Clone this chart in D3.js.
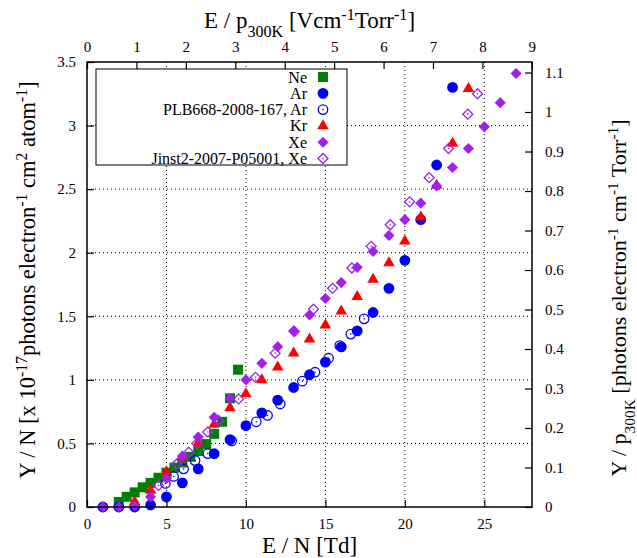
<!DOCTYPE html>
<html>
<head>
<meta charset="utf-8">
<script src="https://cdn.jsdelivr.net/npm/d3@7"></script>
<style>
  body { margin: 0; background: #fff; }
</style>
</head>
<body>
<div id="chart"></div>
<script>
// Data (E/N in Td, Y/N in 1e-17 photons/electron cm2/atom)
const neX = [2, 2.5, 3, 3.5, 4, 4.5, 5, 5.5, 6, 6.5, 7, 7.5, 8, 8.5, 9, 9.5];
const neY = [0.04, 0.08, 0.115, 0.155, 0.19, 0.23, 0.27, 0.31, 0.35, 0.395, 0.44, 0.495, 0.575, 0.67, 0.855, 1.08];

const arX = [1, 2, 3, 4, 5, 6, 7, 8, 9, 10, 11, 12, 13, 14, 15, 16, 17, 18, 19, 20, 21, 22, 23];
const arY = [0, 0, 0, 0.016, 0.08, 0.19, 0.30, 0.42, 0.53, 0.64, 0.74, 0.84, 0.94, 1.04, 1.14, 1.26, 1.385, 1.53, 1.72, 1.94, 2.26, 2.69, 3.30];

const plbX = [4.93, 5.45, 6.08, 6.8, 7.6, 9.1, 10.65, 11.36, 12.16, 13.55, 14.35, 15.2, 15.9, 16.6, 17.44];
const plbY = [0.185, 0.24, 0.30, 0.365, 0.42, 0.52, 0.67, 0.72, 0.81, 0.99, 1.06, 1.17, 1.27, 1.36, 1.48];

const krX = [3, 4, 5, 6, 7, 8, 9, 10, 11, 12, 13, 14, 15, 16, 17, 18, 19, 20, 21, 22, 23, 24];
const krY = [0.04, 0.13, 0.275, 0.39, 0.505, 0.65, 0.78, 0.89, 1.0, 1.10, 1.21, 1.32, 1.43, 1.54, 1.655, 1.79, 1.92, 2.09, 2.28, 2.53, 2.86, 3.29];

const xeX = [1, 2, 3, 4, 5, 6, 7, 8, 9, 10, 11, 12, 13, 14, 15, 16, 17, 18, 19, 20, 21, 22, 23, 24, 25, 26, 27];
const xeY = [0, 0, 0.01, 0.08, 0.225, 0.40, 0.55, 0.705, 0.855, 1.0, 1.13, 1.26, 1.385, 1.51, 1.64, 1.765, 1.885, 2.01, 2.135, 2.26, 2.39, 2.525, 2.67, 2.82, 2.99, 3.18, 3.41];

const jinX = [4.5, 5.66, 6.4, 6.92, 7.6, 8.28, 9.54, 10.6, 11.84, 13.05, 14.25, 15.45, 16.67, 17.88, 19.08, 20.3, 21.53, 22.75, 23.96, 24.57];
const jinY = [0.17, 0.34, 0.43, 0.50, 0.59, 0.68, 0.85, 1.02, 1.21, 1.38, 1.555, 1.72, 1.88, 2.05, 2.22, 2.40, 2.59, 2.82, 3.09, 3.25];

const seriesInfo = [
  {label: "Ne", xs: neX, ys: neY, color: "#008000", shape: "square", open: false},
  {label: "Ar", xs: arX, ys: arY, color: "#0000ff", shape: "circle", open: false},
  {label: "PLB668-2008-167, Ar", xs: plbX, ys: plbY, color: "#0000ff", shape: "circle", open: true},
  {label: "Kr", xs: krX, ys: krY, color: "#ff0000", shape: "triangle", open: false},
  {label: "Xe", xs: xeX, ys: xeY, color: "#a020f0", shape: "diamond", open: false},
  {label: "Jinst2-2007-P05001, Xe", xs: jinX, ys: jinY, color: "#a020f0", shape: "diamond", open: true}
];

const xTicks = [0, 5, 10, 15, 20, 25];
const x2Ticks = [0, 1, 2, 3, 4, 5, 6, 7, 8, 9];
const yTicks = [0, 0.5, 1, 1.5, 2, 2.5, 3, 3.5];
const y2Ticks = [0, 0.1, 0.2, 0.3, 0.4, 0.5, 0.6, 0.7, 0.8, 0.9, 1, 1.1];

const serif = "'Liberation Serif', 'DejaVu Serif', serif";

// Dimensions
const width = 637;
const height = 558;
const margin = {top: 62, right: 105, bottom: 51, left: 87};
const innerWidth = width - margin.left - margin.right;
const innerHeight = height - margin.top - margin.bottom;

// Td per V/cm/Torr at 300 K, and N/p at 300 K (x 1e-17)
const tdPerEp = 3.11;
const nOverP = 0.3219;

const svg = d3.select("#chart")
  .append("svg")
    .attr("width", width)
    .attr("height", height)
    .style("font-family", serif)
    .style("display", "block");

const inner = svg.append("g")
  .attr("transform", `translate(${margin.left}, ${margin.top})`);

// Scales
const xScale = d3.scaleLinear().domain([0, 28]).range([0, innerWidth]);
const x2Scale = d3.scaleLinear().domain([0, 28 / tdPerEp]).range([0, innerWidth]);
const yScale = d3.scaleLinear().domain([0, 3.5]).range([innerHeight, 0]);
const y2Scale = d3.scaleLinear().domain([0, 3.5 * nOverP]).range([innerHeight, 0]);

// Dotted grid
inner.append("g")
  .selectAll("line")
  .data(xTicks.slice(1))
  .join("line")
    .attr("x1", d => xScale(d)).attr("x2", d => xScale(d))
    .attr("y1", 0).attr("y2", innerHeight)
    .attr("stroke", "#000").attr("stroke-width", 1)
    .attr("stroke-dasharray", "1,3");

inner.append("g")
  .selectAll("line")
  .data(yTicks.slice(1, -1))
  .join("line")
    .attr("x1", 0).attr("x2", innerWidth)
    .attr("y1", d => yScale(d)).attr("y2", d => yScale(d))
    .attr("stroke", "#000").attr("stroke-width", 1)
    .attr("stroke-dasharray", "1,3");

// Axes (ticks inward)
const styleAxis = g => {
  g.attr("font-family", serif);
  g.select(".domain").remove();
  g.selectAll(".tick line").attr("stroke", "#000").attr("stroke-width", 1.2);
  g.selectAll(".tick text")
    .style("font-size", "15px")
    .style("font-family", serif)
    .attr("fill", "#000");
};

inner.append("g")
  .attr("transform", `translate(0, ${innerHeight})`)
  .call(d3.axisBottom(xScale).tickValues(xTicks).tickFormat(d3.format("d")).tickSize(-7).tickPadding(11))
  .call(styleAxis);

inner.append("g")
  .call(d3.axisTop(x2Scale).tickValues(x2Ticks).tickFormat(d3.format("d")).tickSize(-7).tickPadding(10))
  .call(styleAxis);

inner.append("g")
  .call(d3.axisLeft(yScale).tickValues(yTicks).tickFormat(d => String(d)).tickSize(-7).tickPadding(11))
  .call(styleAxis);

inner.append("g")
  .attr("transform", `translate(${innerWidth}, 0)`)
  .call(d3.axisRight(y2Scale).tickValues(y2Ticks).tickFormat(d => String(+d.toFixed(1))).tickSize(-7).tickPadding(13))
  .call(styleAxis);

// Legend box (drawn before the points so points sit on top)
const legendRows = seriesInfo.map((s, i) => ({...s, row: i}));
const legend = inner.append("g").attr("transform", "translate(9, 7)");
legend.append("rect")
  .attr("width", 251).attr("height", 96)
  .attr("fill", "#fff").attr("stroke", "#000").attr("stroke-width", 1);

// Marker drawing
const symbolPath = {
  square: d3.symbol(d3.symbolSquare, 100)(),
  circle: d3.symbol(d3.symbolCircle, 92)(),
  triangle: d3.symbol(d3.symbolTriangle, 58)(),
  diamond: d3.symbol(d3.symbolSquare, 62)()
};

const drawMarker = (g, s) => {
  const rot = s.shape === "diamond" ? "rotate(45)" : null;
  g.append("path")
    .attr("d", s.open ? (s.shape === "circle" ? d3.symbol(d3.symbolCircle, 70)() : d3.symbol(d3.symbolSquare, 50)()) : symbolPath[s.shape])
    .attr("transform", rot)
    .attr("fill", s.open ? "none" : s.color)
    .attr("stroke", s.open ? s.color : "none")
    .attr("stroke-width", 1.3);
  if (s.open) {
    g.append("circle").attr("r", 0.8).attr("fill", s.color);
  }
};

legendRows.forEach(s => {
  const ly = 8 + s.row * 16.3;
  legend.append("text")
    .attr("x", 211).attr("y", ly + 5.5)
    .attr("text-anchor", "end")
    .style("font-size", "16px")
    .text(s.label);
  drawMarker(legend.append("g").attr("transform", `translate(227, ${ly})`), s);
});

// Points
seriesInfo.forEach(s => {
  const pts = s.xs.map((x, i) => ({x: x, y: s.ys[i]}));
  inner.append("g")
    .selectAll("g")
    .data(pts)
    .join("g")
      .attr("transform", d => `translate(${xScale(d.x)}, ${yScale(d.y)})`)
      .each(function() { drawMarker(d3.select(this), s); });
});

// Border
inner.append("rect")
  .attr("width", innerWidth).attr("height", innerHeight)
  .attr("fill", "none").attr("stroke", "#000").attr("stroke-width", 1.5);

// Axis titles
const addRich = (text, parts, big) => {
  parts.forEach(p => {
    const t = text.append("tspan").text(p.t);
    if (p.sup) t.attr("baseline-shift", "super").style("font-size", (big * 0.7) + "px");
    if (p.sub) t.attr("baseline-shift", "sub").style("font-size", (big * 0.7) + "px");
  });
};

svg.append("text")
  .attr("x", margin.left + innerWidth / 2).attr("y", 553)
  .attr("text-anchor", "middle")
  .style("font-size", "23px")
  .text("E / N [Td]");

const topTitle = svg.append("text")
  .attr("x", margin.left + innerWidth / 2).attr("y", 28)
  .attr("text-anchor", "middle")
  .style("font-size", "23px");
addRich(topTitle, [
  {t: "E / p"}, {t: "300K", sub: true}, {t: " [Vcm"}, {t: "-1", sup: true},
  {t: "Torr"}, {t: "-1", sup: true}, {t: "]"}
], 23);

const leftTitle = svg.append("text")
  .attr("transform", `translate(35, 280) rotate(-90)`)
  .attr("text-anchor", "middle")
  .style("font-size", "22.5px");
addRich(leftTitle, [
  {t: "Y / N [x 10"}, {t: "-17", sup: true}, {t: "photons electron"}, {t: "-1", sup: true},
  {t: " cm"}, {t: "2", sup: true}, {t: " atom"}, {t: "-1", sup: true}, {t: "]"}
], 22.5);

const rightTitle = svg.append("text")
  .attr("transform", `translate(626, 298) rotate(-90)`)
  .attr("text-anchor", "middle")
  .style("font-size", "22px");
addRich(rightTitle, [
  {t: "Y / p"}, {t: "300K", sub: true}, {t: " [photons electron"}, {t: "-1", sup: true},
  {t: " cm"}, {t: "-1", sup: true}, {t: " Torr"}, {t: "-1", sup: true}, {t: "]"}
], 22);
</script>
</body>
</html>
